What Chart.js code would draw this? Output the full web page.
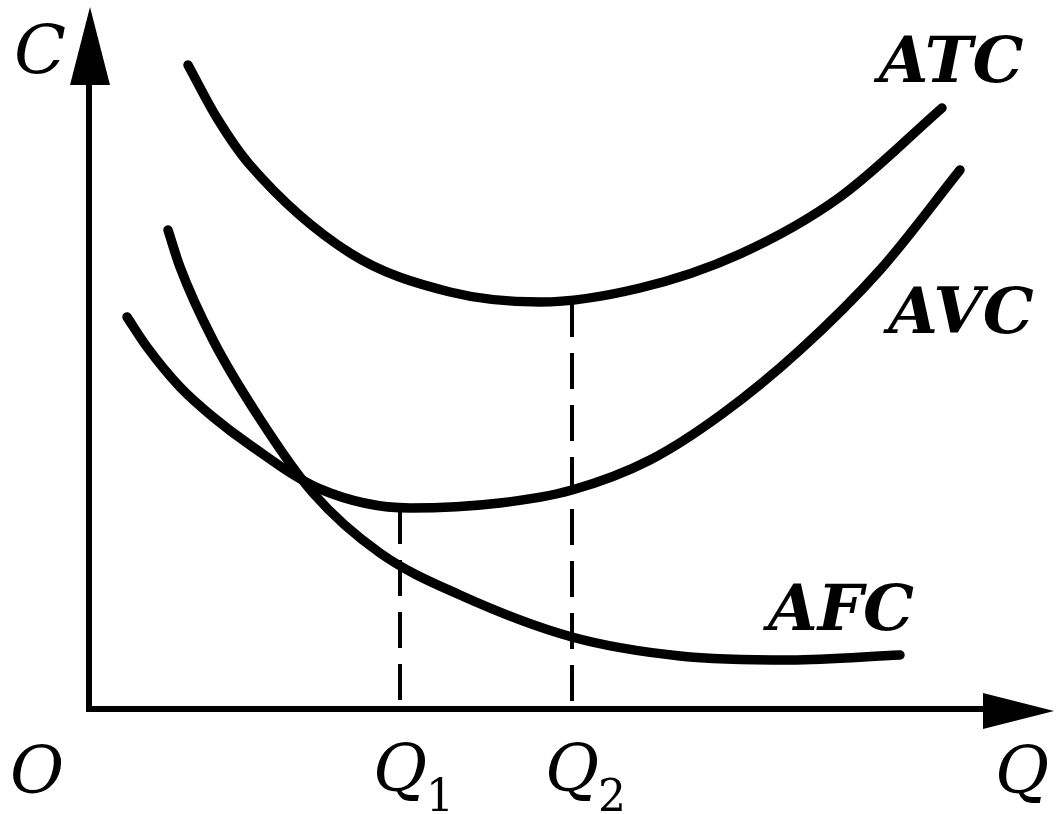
<!DOCTYPE html>
<html>
<head>
<meta charset="utf-8">
<title>ATC AVC AFC</title>
<script src="https://cdn.jsdelivr.net/npm/chart.js@4.4.1/dist/chart.umd.min.js"></script>
<style>
    html, body { margin: 0; padding: 0; background: #fff; }
    #chart-container { width: 1056px; height: 814px; }
</style>
</head>
<body>
<div id="chart-container"><canvas id="cost-chart" width="1056" height="814"></canvas></div>
<script>
// Curve points: quantity Q and unit cost C
var atcQ = [9.7, 12.6, 15.9, 25.9, 35.9, 44.9, 54.9, 64.9, 74.9, 85.1];
var atcC = [64.3, 59.0, 54.3, 45.5, 41.6, 40.6, 42.0, 45.4, 51.1, 60.0];

var avcQ = [3.6, 5.6, 8.9, 12.2, 15.9, 22.9, 31.9, 40.9, 48.1, 55.9, 63.1, 70.9, 78.9, 86.9];
var avcC = [39.1, 36.1, 32.1, 29.1, 26.3, 21.9, 20.0, 20.5, 21.8, 24.8, 29.4, 35.8, 43.8, 53.8];

var afcQ = [7.7, 8.9, 12.2, 16.9, 22.2, 28.9, 36.9, 48.1, 58.9, 69.9, 80.9];
var afcC = [47.8, 44.1, 36.8, 28.9, 21.5, 15.5, 11.3, 7.1, 5.2, 4.8, 5.3];

// Q1 = minimum of AVC, Q2 = minimum of ATC
var qMarks = [30.9, 48.1];
var qMarkCosts = [20.0, 40.7];
var qSubscripts = ['1', '2'];

// curve names and where they sit (Q, C)
var curveNames = ['ATC', 'AVC', 'AFC'];
var curveNameQ = [86.0, 87.0, 75.0];
var curveNameC = [62.6, 37.5, 7.8];

var qMax = 96.2;
var cMax = 69.8;

function toPoints(xs, ys) {
    var pts = [];
    for (var i = 0; i < xs.length; i++) {
        pts.push({ x: xs[i], y: ys[i] });
    }
    return pts;
}

function curve(xs, ys) {
    return {
        data: toPoints(xs, ys),
        borderColor: '#000',
        borderWidth: 9.5,
        borderCapStyle: 'round',
        borderJoinStyle: 'round',
        cubicInterpolationMode: 'monotone',
        pointRadius: 0,
        fill: false,
        clip: false,
        order: 1
    };
}

function dropLine(q, c) {
    return {
        data: [{ x: q, y: c }, { x: q, y: 0 }],
        borderColor: '#000',
        borderWidth: 4,
        borderDash: [36, 16],
        borderCapStyle: 'butt',
        tension: 0,
        pointRadius: 0,
        fill: false,
        clip: false,
        order: 2
    };
}

var datasets = [];
for (var k = 0; k < qMarks.length; k++) {
    datasets.push(dropLine(qMarks[k], qMarkCosts[k]));
}
datasets.push(curve(atcQ, atcC));
datasets.push(curve(avcQ, avcC));
datasets.push(curve(afcQ, afcC));

// axes with arrow heads, plus the letters
var axesPlugin = {
    id: 'axesAndLabels',
    beforeDatasetsDraw: function(chart) {
        var ctx = chart.ctx;
        var a = chart.chartArea;
        ctx.save();
        ctx.strokeStyle = '#000';
        ctx.fillStyle = '#000';
        ctx.lineWidth = 6;
        ctx.lineCap = 'square';
        ctx.beginPath();
        ctx.moveTo(a.left - 2, a.top + 40);
        ctx.lineTo(a.left - 2, a.bottom + 1);
        ctx.lineTo(a.right - 40, a.bottom + 1);
        ctx.stroke();

        // arrow on C
        ctx.beginPath();
        ctx.moveTo(a.left - 1, a.top - 3);
        ctx.lineTo(a.left + 19, a.top + 75);
        ctx.lineTo(a.left - 21, a.top + 75);
        ctx.closePath();
        ctx.fill();

        // arrow on Q
        ctx.beginPath();
        ctx.moveTo(a.right + 1, a.bottom + 3);
        ctx.lineTo(a.right - 70, a.bottom - 15);
        ctx.lineTo(a.right - 70, a.bottom + 21);
        ctx.closePath();
        ctx.fill();
        ctx.restore();
    },
    afterDraw: function(chart) {
        var ctx = chart.ctx;
        var a = chart.chartArea;
        var xs = chart.scales.x;
        var ys = chart.scales.y;
        ctx.save();
        ctx.fillStyle = '#000';
        ctx.textAlign = 'center';
        ctx.textBaseline = 'alphabetic';

        ctx.font = 'italic 68px "DejaVu Serif"';
        ctx.fillText('C', 40, 73);
        ctx.font = 'italic 66px "DejaVu Serif"';
        ctx.fillText('O', 37, a.bottom + 85);
        ctx.fillText('Q', 1022, a.bottom + 85);

        for (var i = 0; i < qMarks.length; i++) {
            var px = xs.getPixelForValue(qMarks[i]);
            ctx.font = 'italic 66px "DejaVu Serif"';
            ctx.textAlign = 'center';
            ctx.fillText('Q', px, a.bottom + 83);
            ctx.font = '44px "DejaVu Serif"';
            ctx.textAlign = 'left';
            ctx.fillText(qSubscripts[i], px + 26, a.bottom + 103);
        }

        ctx.font = 'italic bold 64px "DejaVu Serif"';
        ctx.textAlign = 'center';
        for (var j = 0; j < curveNames.length; j++) {
            ctx.fillText(curveNames[j], xs.getPixelForValue(curveNameQ[j]), ys.getPixelForValue(curveNameC[j]));
        }
        ctx.restore();
    }
};

var chart = new Chart(document.getElementById('cost-chart').getContext('2d'), {
    type: 'line',
    data: { datasets: datasets },
    options: {
        responsive: false,
        animation: false,
        layout: { padding: { left: 91, right: 3, top: 10, bottom: 106 } },
        scales: {
            x: { type: 'linear', min: 0, max: qMax, display: false },
            y: { type: 'linear', min: 0, max: cMax, display: false }
        },
        plugins: {
            legend: { display: false },
            tooltip: { enabled: false }
        }
    },
    plugins: [axesPlugin]
});
</script>
</body>
</html>
